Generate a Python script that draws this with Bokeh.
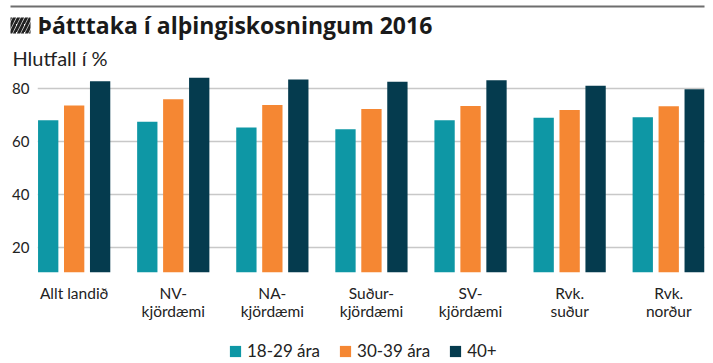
from bokeh.plotting import figure
from bokeh.models import (ColumnDataSource, FixedTicker, Legend, LegendItem, Range1d)
from bokeh.core.properties import value
from bokeh.transform import dodge
from bokeh.embed import file_html
from bokeh.resources import INLINE

# ---- data ----
categories = ["Allt landið", "NV-\nkjördæmi", "NA-\nkjördæmi", "Suður-\nkjördæmi",
              "SV-\nkjördæmi", "Rvk.\nsuður", "Rvk.\nnorður"]
age_18_29 = [68.1, 67.5, 65.4, 64.7, 68.1, 69.0, 69.2]
age_30_39 = [73.7, 76.0, 73.8, 72.3, 73.5, 72.0, 73.4]
age_40 = [82.8, 84.1, 83.5, 82.6, 83.2, 81.1, 79.8]
series_names = ["18-29 ára", "30-39 ára", "40+"]
y_ticks = [20, 40, 60, 80]

title_text = "Þátttaka í alþingiskosningum 2016"
subtitle_text = "Hlutfall í %"

colors = ["#0e97a5", "#f58733", "#053b4e"]
y_base = 10.66
W = 713


def bare(fig):
    fig.axis.visible = False
    fig.grid.visible = False
    fig.outline_line_color = None


# ---- header (title block) ----
HH = 75
h = figure(width=W, height=HH, output_backend="svg", toolbar_location=None,
           x_range=Range1d(0, W), y_range=Range1d(HH, 0),
           min_border_left=0, min_border_right=0,
           min_border_top=0, min_border_bottom=0)
bare(h)
h.segment(x0=[10], y0=[6], x1=[704], y1=[6], line_color="#6e6e6e", line_width=2)
h.quad(left=[10], right=[30], top=[17], bottom=[33], fill_alpha=0, line_color=None,
       hatch_pattern="/", hatch_color="#222222", hatch_weight=3, hatch_scale=8)
h.text(x=[37], y=[24], text=[title_text], text_font=value("Open Sans"),
       text_font_style="bold", text_font_size="23px", text_color="#1a1a1a",
       text_baseline="middle")
h.text(x=[12], y=[57], text=[subtitle_text], text_font=value("Lato"),
       text_font_size="20px", text_color="#222222", text_baseline="middle")

# ---- main chart ----
xs = list(range(len(categories)))
src = ColumnDataSource(dict(x=xs, a=age_18_29, b=age_30_39, c=age_40))

p = figure(width=W, height=247, output_backend="svg", toolbar_location=None,
           x_range=Range1d(-0.370, 6.361), y_range=Range1d(y_base, 84.97),
           min_border_left=37, min_border_right=9, min_border_top=0,
           min_border_bottom=48)
p.outline_line_color = None

renderers = []
for col, off, color in zip(["a", "b", "c"], [-0.262, 0.0, 0.262], colors):
    r = p.vbar(x=dodge("x", off), top=col, bottom=y_base, width=0.205,
               source=src, fill_color=color, line_color=None)
    renderers.append(r)

p.yaxis.ticker = FixedTicker(ticks=y_ticks)
p.yaxis.axis_line_color = None
p.yaxis.major_tick_line_color = None
p.yaxis.minor_tick_line_color = None
p.yaxis.major_tick_out = 0
p.yaxis.major_tick_in = 0
p.yaxis.major_label_standoff = 8
p.yaxis.major_label_text_font = "Lato"
p.yaxis.major_label_text_font_size = "15px"
p.yaxis.major_label_text_color = "#222222"

p.xaxis.ticker = FixedTicker(ticks=xs)
p.xaxis.major_label_overrides = {i: c for i, c in zip(xs, categories)}
p.xaxis.axis_line_color = None
p.xaxis.major_tick_line_color = None
p.xaxis.minor_tick_line_color = None
p.xaxis.major_label_standoff = 5
p.xaxis.major_label_text_font = "Lato"
p.xaxis.major_label_text_font_size = "15.5px"
p.xaxis.major_label_text_line_height = 1.02
p.xaxis.major_label_text_color = "#222222"

p.xgrid.grid_line_color = None
p.ygrid.ticker = FixedTicker(ticks=y_ticks)
p.ygrid.grid_line_color = "#c8c8c8"
p.ygrid.grid_line_width = 1.5

# ---- footer (legend) ----
FH = 40
f = figure(width=W, height=FH, output_backend="svg", toolbar_location=None,
           x_range=Range1d(0, 1), y_range=Range1d(0, 1),
           min_border_left=0, min_border_right=0,
           min_border_top=0, min_border_bottom=0)
bare(f)
# swatch renderers sit outside the visible range; only their legend glyphs show
swatches = [f.vbar(x=[5], top=[5], bottom=[4], width=1, fill_color=c, line_color=None)
            for c in colors]
legend = Legend(items=[LegendItem(label=n, renderers=[r])
                       for n, r in zip(series_names, swatches)],
                orientation="horizontal", location=(228, 1),
                glyph_width=14, glyph_height=14, label_standoff=5, spacing=18,
                padding=0, margin=0, border_line_color=None,
                background_fill_alpha=0,
                label_text_font="Lato", label_text_font_size="17px",
                label_text_color="#222222")
f.add_layout(legend, "center")

open("out.html", "w").write(file_html([h, p, f], INLINE))
